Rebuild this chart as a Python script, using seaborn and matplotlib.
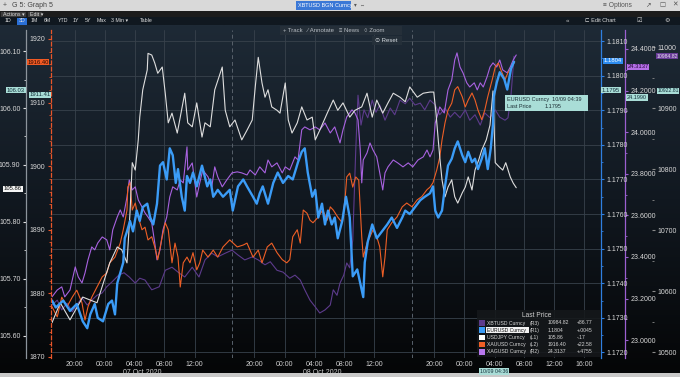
import numpy as np
import pandas as pd
import matplotlib
matplotlib.use("Agg")
import matplotlib.pyplot as plt
import matplotlib.dates as mdates
from matplotlib.ticker import FormatStrFormatter, MultipleLocator
from matplotlib.colors import LinearSegmentedColormap
from matplotlib.patches import Rectangle
from matplotlib.transforms import blended_transform_factory
import seaborn as sns

sns.set_theme(style="dark")
plt.rcParams['font.family'] = ['Liberation Sans', 'DejaVu Sans']

# ---- data: (hours after 06 Oct 17:00, price) ----
usdjpy = [(0.0,105.623),(1.1,105.658),(2.4,105.628),(4.1,105.668),(6.0,105.658),(7.7,105.728),(8.7,105.756),
          (9.3,105.751),(10.0,105.728),(10.4,105.816),(10.7,105.904),(11.1,105.891),(11.5,105.944),(11.7,105.984),
          (12.1,106.032),(12.7,106.067),(12.8,106.096),(13.3,106.093),(13.7,106.079),(14.1,106.061),(14.7,106.072),
          (15.1,106.026),(15.5,105.974),(16.0,105.991),(16.7,105.956),(17.1,105.984),(17.7,106.026),(18.1,105.974),
          (18.7,105.967),(19.3,106.009),(20.0,105.949),(20.4,105.974),(21.1,105.967),(21.7,106.032),(22.7,106.072),
          (23.1,105.996),(23.7,105.967),(24.4,105.979),(25.3,105.944),(26.0,105.961),(26.7,105.979),(27.1,106.037),
          (27.5,106.089),(28.0,106.044),(28.4,106.019),(28.8,106.032),(29.3,106.002),(30.0,105.996),(30.4,105.991),
          (31.1,106.044),(31.5,105.979),(32.0,105.956),(32.7,105.974),(33.3,106.002),(34.0,105.979),(34.7,105.984),
          (35.1,105.944),(35.7,105.961),(36.7,105.991),(37.5,106.014),(38.1,105.996),(38.8,106.009),(39.7,105.984),
          (40.4,105.996),(41.3,106.002),(42.0,106.026),(42.7,105.984),(43.3,106.014),(44.1,105.991),(44.8,106.009),
          (45.5,106.026),(46.4,106.019),(47.1,106.011),(47.7,106.037),(48.7,106.019),(49.5,106.026),(50.4,106.028),
          (50.9,106.028),(51.2,105.991),(51.5,105.944),(51.7,105.914),(52.0,105.874),(52.4,105.844),(52.8,105.861),
          (53.3,105.874),(53.7,105.844),(54.1,105.833),(54.7,105.851),(55.1,105.861),(55.5,105.879),(56.0,105.856),
          (56.4,105.891),(56.9,105.909),(57.3,105.926),(57.9,105.944),(58.4,105.970),(58.8,106.030),(59.1,105.904),
          (59.6,105.897),(60.1,105.891),(60.5,105.904),(61.1,105.879),(61.5,105.868),(61.9,105.860)]

eurusd = [(0.0,1.1735),(0.5,1.1733),(1.5,1.1735),(2.4,1.1732),(3.3,1.1734),(4.1,1.1729),(4.7,1.1727),(5.1,1.1731),
          (5.7,1.1734),(6.1,1.1730),(6.8,1.1729),(7.5,1.1734),(8.0,1.1735),(8.4,1.1731),(8.7,1.1740),(9.1,1.1743),
          (9.5,1.1746),(9.7,1.1753),(10.0,1.1755),(10.4,1.1758),(10.8,1.1755),(11.3,1.1761),(11.7,1.1758),(12.1,1.1762),
          (12.7,1.1763),(13.1,1.1759),(13.5,1.1757),(14.0,1.1763),(14.4,1.1774),(14.8,1.1775),(15.3,1.1770),(15.7,1.1779),
          (16.1,1.1777),(16.5,1.1769),(16.8,1.1773),(17.3,1.1765),(17.7,1.1761),(18.0,1.1771),(18.4,1.1769),(18.8,1.1772),
          (19.3,1.1768),(20.0,1.1774),(20.7,1.1768),(21.1,1.1770),(21.5,1.1765),(22.1,1.1767),(22.8,1.1765),(23.7,1.1767),
          (24.1,1.1761),(24.8,1.1768),(25.5,1.1770),(26.0,1.1768),(26.8,1.1765),(27.3,1.1763),(27.7,1.1766),(28.1,1.1768),
          (28.8,1.1763),(29.5,1.1769),(30.1,1.1772),(30.8,1.1769),(31.5,1.1771),(32.1,1.1770),(32.8,1.1775),(33.3,1.1778),
          (33.7,1.1779),(34.1,1.1772),(34.7,1.1765),(35.1,1.1767),(35.5,1.1759),(36.0,1.1763),(36.4,1.1757),(36.8,1.1761),
          (37.3,1.1757),(37.7,1.1759),(38.1,1.1753),(38.7,1.1758),(39.2,1.1765),(39.7,1.1759),(40.1,1.1742),(40.7,1.1744),
          (41.1,1.1740),(41.5,1.1736),(41.7,1.1746),(42.1,1.1752),(42.7,1.1757),(43.3,1.1753),(44.0,1.1755),(44.7,1.1757),
          (45.3,1.1759),(46.0,1.1756),(46.7,1.1759),(47.1,1.1761),(47.7,1.1760),(48.4,1.1762),(49.1,1.1764),(49.7,1.1765),
          (50.4,1.1766),(50.8,1.1768),(51.1,1.1761),(51.5,1.1759),(52.0,1.1761),(52.4,1.1768),(52.8,1.1774),(53.3,1.1776),
          (53.7,1.1779),(54.1,1.1781),(54.7,1.1777),(55.1,1.1775),(55.5,1.1778),(56.0,1.1775),(56.4,1.1776),(56.8,1.1773),
          (57.3,1.1776),(57.7,1.1779),(58.1,1.1773),(58.5,1.1779),(58.8,1.1786),(58.9,1.1794),(59.3,1.1798),(59.7,1.1801),
          (60.3,1.1799),(60.7,1.1796),(61.2,1.1802),(61.6,1.1804)]

xauusd = [(0.0,1877.9),(0.7,1876.3),(1.3,1879.4),(2.0,1877.9),(2.7,1879.4),(3.3,1880.5),(4.0,1878.5),(4.4,1875.8),
          (4.8,1877.9),(5.3,1879.4),(6.0,1881.0),(6.7,1882.6),(7.3,1883.2),(7.7,1884.8),(8.4,1885.7),(9.1,1887.9),
          (9.5,1890.0),(10.0,1893.1),(10.1,1896.7),(10.4,1897.4),(10.7,1893.1),(11.1,1894.2),(11.5,1892.0),(12.0,1890.0),
          (12.4,1890.4),(12.8,1888.4),(13.3,1888.9),(13.7,1887.3),(14.1,1885.3),(14.7,1888.9),(15.1,1891.1),(15.5,1890.0),
          (16.0,1884.8),(16.4,1887.9),(16.8,1885.7),(17.1,1881.0),(17.5,1884.8),(18.0,1885.7),(18.4,1884.8),(18.8,1886.4),
          (19.3,1883.7),(19.7,1884.8),(20.1,1886.8),(20.8,1885.7),(21.5,1886.8),(22.1,1885.7),(22.8,1887.3),(23.7,1888.4),
          (24.7,1887.3),(25.5,1887.6),(26.0,1887.9),(26.8,1885.7),(27.5,1886.8),(28.0,1884.8),(28.7,1887.3),(29.3,1887.9),
          (30.0,1886.4),(30.7,1885.3),(31.3,1884.8),(31.7,1885.3),(32.1,1888.9),(32.7,1890.0),(33.1,1887.9),(33.5,1893.1),
          (34.0,1892.6),(34.4,1891.5),(34.8,1891.1),(35.5,1892.0),(36.1,1893.1),(36.7,1891.5),(37.1,1893.6),(37.5,1893.1),
          (38.1,1892.0),(38.7,1891.1),(39.1,1895.2),(39.3,1898.3),(39.7,1898.9),(40.1,1896.7),(40.5,1898.3),(40.9,1897.8),
          (41.3,1888.9),(41.5,1885.7),(42.0,1887.9),(42.4,1888.9),(42.8,1890.0),(43.3,1888.9),(43.7,1887.3),(44.1,1882.6),
          (44.4,1885.7),(44.7,1890.0),(45.3,1891.1),(46.0,1892.0),(46.7,1893.6),(47.3,1894.2),(48.0,1893.6),(48.7,1894.7),
          (49.3,1895.2),(50.0,1896.3),(50.4,1896.7),(50.8,1897.4),(51.3,1899.4),(51.7,1901.4),(52.0,1904.1),(52.4,1906.8),
          (52.8,1908.8),(53.3,1909.9),(53.7,1912.0),(54.1,1912.5),(54.7,1910.9),(55.1,1909.3),(55.5,1910.4),(56.0,1911.5),
          (56.4,1910.4),(56.8,1908.8),(57.3,1907.3),(57.7,1908.8),(58.1,1910.9),(58.7,1913.6),(59.1,1915.6),(59.5,1916.2),
          (60.0,1914.7),(60.4,1913.6),(60.8,1914.7),(61.3,1915.6),(61.7,1916.4)]

xagusd = [(0.0,23.208),(0.7,23.241),(1.3,23.256),(1.7,23.208),(2.4,23.241),(3.1,23.352),(3.5,23.304),(4.0,23.275),
          (4.4,23.323),(4.8,23.386),(5.3,23.448),(5.7,23.434),(6.1,23.467),(6.7,23.496),(7.3,23.482),(7.7,23.434),
          (8.1,23.530),(8.7,23.592),(9.1,23.626),(9.5,23.592),(10.0,23.688),(10.3,23.770),(10.7,23.722),(11.1,23.737),
          (11.5,23.674),(12.0,23.640),(12.4,23.612),(12.8,23.592),(13.3,23.563),(13.7,23.467),(14.0,23.386),(14.4,23.434),
          (14.8,23.530),(15.3,23.592),(15.7,23.688),(16.1,23.737),(16.7,23.722),(17.1,23.770),(17.5,23.756),(18.0,23.929),
          (18.1,23.818),(18.7,23.852),(19.3,23.688),(19.7,23.756),(20.1,23.818),(20.8,23.785),(21.3,23.737),(21.7,23.833),
          (22.1,23.785),(22.7,23.737),(23.3,23.770),(24.0,23.804),(24.7,23.809),(25.3,23.804),(26.0,23.794),(26.4,23.818),
          (27.1,23.794),(27.7,23.833),(28.4,23.804),(28.8,23.866),(29.3,23.833),(30.0,23.852),(30.7,23.804),(31.1,23.833),
          (31.7,23.818),(32.4,23.881),(32.8,23.866),(33.3,24.011),(33.7,24.025),(34.4,24.011),(35.1,24.025),(35.7,24.011),
          (36.4,24.044),(37.1,23.996),(37.7,24.025),(38.4,23.948),(38.8,24.011),(39.3,24.073),(40.0,24.107),(40.4,24.092),
          (40.8,24.059),(41.1,23.914),(41.3,23.756),(41.5,23.866),(42.0,23.900),(42.4,23.948),(42.8,23.914),(43.3,23.881),
          (43.7,23.804),(44.1,23.722),(44.4,23.804),(44.8,23.833),(45.5,23.866),(46.1,23.852),(46.8,23.833),(47.5,23.852),
          (48.1,23.833),(48.8,23.866),(49.5,23.881),(50.0,23.914),(50.4,23.881),(50.8,23.914),(51.1,24.044),(51.7,24.121),
          (52.3,24.092),(52.8,24.203),(53.3,24.251),(53.7,24.347),(54.0,24.381),(54.4,24.313),(54.8,24.285),(55.3,24.237),
          (55.7,24.217),(56.3,24.237),(56.7,24.203),(57.1,24.237),(57.5,24.217),(58.0,24.265),(58.4,24.313),(58.8,24.333),
          (59.3,24.313),(59.7,24.347),(60.1,24.299),(60.7,24.285),(61.1,24.313),(61.5,24.347),(61.9,24.371)]

xbtusd = [(0.0,10577),(0.7,10585),(1.3,10569),(2.0,10580),(2.7,10566),(3.3,10577),(4.0,10589),(4.7,10577),
          (5.3,10585),(6.0,10593),(6.7,10597),(7.3,10607),(8.0,10615),(8.9,10626),(9.6,10630),(10.3,10623),
          (11.1,10613),(11.7,10621),(12.4,10618),(13.3,10602),(14.3,10607),(15.1,10634),(16.0,10639),(16.9,10630),
          (17.7,10623),(18.7,10639),(19.6,10623),(20.4,10651),(21.3,10662),(22.1,10656),(23.1,10662),(24.0,10667),
          (24.8,10659),(25.7,10651),(26.7,10656),(27.5,10651),(28.4,10643),(29.1,10648),(30.0,10634),(30.8,10631),
          (31.7,10621),(32.4,10626),(33.1,10618),(33.7,10602),(34.4,10585),(35.1,10574),(35.7,10564),(36.4,10569),
          (37.1,10577),(37.5,10602),(38.0,10593),(38.4,10613),(38.9,10626),(39.3,10646),(39.7,10638),(40.1,10684),
          (40.5,10831),(40.8,10921),(41.2,10872),(41.6,10897),(42.1,10884),(42.7,10913),(43.2,10893),(43.7,10905),
          (44.4,10880),(45.1,10900),(45.7,10889),(46.4,10913),(47.1,10907),(47.7,10916),(48.4,10905),(49.1,10908),
          (49.7,10897),(50.4,10913),(51.1,10905),(51.7,10889),(52.4,10900),(53.1,10885),(53.7,10893),(54.4,10884),
          (55.1,10897),(55.7,10880),(56.4,10889),(57.1,10872),(57.7,10892),(58.4,10884),(59.1,10897),(59.7,10885),
          (60.4,10880),(60.8,10884),(61.2,10921),(61.6,10984.82)]

# legend table
leg_names = ["XBTUSD Curncy", "EURUSD Curncy", "USDJPY Curncy", "XAUUSD Curncy", "XAGUSD Curncy"]
leg_side = ["(R3)", "(R1)", "(L1)", "(L2)", "(R2)"]
leg_last = ["10984.82", "1.1804", "105.86", "1916.40", "24.3137"]
leg_chg = ["+86.77", "+.0045", "-.17", "+22.58", "+.4755"]

c_xbt, c_eur, c_jpy, c_xau, c_xag = "#5d3b8c", "#3b9cf7", "#dedede", "#ee5f26", "#a862e0"
leg_cols = [c_xbt, c_eur, "#ffffff", c_xau, "#b877ee"]

start = pd.Timestamp("2020-10-06 17:00")
t0, t1 = start, pd.Timestamp("2020-10-09 18:12")
hr = lambda h: start + pd.Timedelta(hours=h)

xticks = [pd.Timestamp(s) for s in ["2020-10-06 20:00", "2020-10-07 00:00", "2020-10-07 04:00", "2020-10-07 08:00",
          "2020-10-07 12:00", "2020-10-07 20:00", "2020-10-08 00:00", "2020-10-08 04:00", "2020-10-08 08:00",
          "2020-10-08 12:00", "2020-10-08 20:00", "2020-10-09 00:00", "2020-10-09 04:00", "2020-10-09 08:00",
          "2020-10-09 12:00", "2020-10-09 16:00"]]
day_breaks = [pd.Timestamp("2020-10-07 17:00"), pd.Timestamp("2020-10-08 17:00")]

W, H = 680, 377
def rect(x0, y0, x1, y1):
    return [x0 / W, 1 - y1 / H, (x1 - x0) / W, (y1 - y0) / H]

fig = plt.figure(figsize=(6.8, 3.77), dpi=100)
fig.patch.set_facecolor("#000000")

# dark gradient panel
bg = fig.add_axes(rect(0, 25, 680, 373), zorder=0)
cmap = LinearSegmentedColormap.from_list("bbg", ["#1e2a36", "#111820", "#050607"])
bg.imshow(np.linspace(0, 1, 256).reshape(-1, 1), aspect="auto", cmap=cmap, extent=[0, 1, 0, 1])
bg.axis("off")

PLOT = rect(52, 30, 601, 358)

# grid axes (follows EURUSD scale, like the terminal)
r1_lim = (1.17184, 1.18132)
r1_ticks = np.arange(1.1720, 1.18101, 0.001)
gax = fig.add_axes(PLOT, zorder=1)
gax.set_facecolor("none")
gax.set_xlim(t0, t1)
gax.set_ylim(*r1_lim)
gax.set_yticks(r1_ticks)
gax.set_xticks(xticks)
gax.grid(True, color="#38424c", lw=0.6)
gax.tick_params(axis="y", length=0, labelleft=False)
gax.xaxis.set_major_formatter(mdates.DateFormatter("%H:%M"))
gax.tick_params(axis="x", length=0, labelsize=5, labelcolor="#cfcfcf", pad=2)
for s in gax.spines.values():
    s.set_visible(False)
for t in day_breaks:
    gax.axvline(t, color="#58616b", lw=0.7, ls=(0, (4, 3)))
tr = blended_transform_factory(gax.transData, gax.transAxes)
gax.text(pd.Timestamp("2020-10-07 05:00"), -0.043, "07 Oct 2020", transform=tr, ha="center", va="center",
         fontsize=5, color="#cfcfcf")
gax.text(pd.Timestamp("2020-10-08 05:00"), -0.043, "08 Oct 2020", transform=tr, ha="center", va="center",
         fontsize=5, color="#cfcfcf")


def series_axes(data, color, lw, z, side, pos, lim, ticks, fmt, spine_color, ls="-", minor=None,
                show_spine=True, tick_color=None):
    ax = fig.add_axes(PLOT, zorder=z)
    h, v = zip(*data)
    df = pd.DataFrame({"t": [hr(x) for x in h], "v": v})
    sns.lineplot(data=df, x="t", y="v", ax=ax, color=color, linewidth=lw, legend=False)
    ax.set_facecolor("none")
    ax.grid(False)
    ax.set_xlim(t0, t1)
    ax.set_ylim(*lim)
    ax.set_xlabel("")
    ax.set_ylabel("")
    ax.xaxis.set_visible(False)
    for s in ax.spines.values():
        s.set_visible(False)
    ax.yaxis.set_ticks_position(side)
    sp = ax.spines[side]
    sp.set_visible(show_spine)
    sp.set_position(("axes", pos))
    sp.set_color(spine_color)
    sp.set_linestyle(ls)
    sp.set_linewidth(0.9)
    ax.set_yticks(ticks)
    ax.yaxis.set_major_formatter(FormatStrFormatter(fmt))
    tc = tick_color or spine_color
    ax.tick_params(axis="y", which="major", color=tc, labelcolor="#d8d8d8", labelsize=5, length=2.5,
                   width=0.8, pad=1.5, direction="out")
    if minor:
        ax.yaxis.set_minor_locator(MultipleLocator(minor))
        ax.tick_params(axis="y", which="minor", color=tc, length=1.5, width=0.6)
    return ax


ax_r3 = series_axes(xbtusd, c_xbt, 0.8, 2, "right", (652 - 52) / 549, (10490.2, 11027.9),
                    np.arange(10500, 11001, 100), "%d", "#8a8a8a", show_spine=False, minor=50)
ax_r2 = series_axes(xagusd, c_xag, 0.8, 3, "right", (625 - 52) / 549, (22.914, 24.491),
                    np.arange(23.0, 24.41, 0.2), "%.4f", "#9b5fd0", minor=0.1)
ax_l2 = series_axes(xauusd, c_xau, 0.8, 4, "left", -0.002, (1869.84, 1921.4),
                    np.arange(1870, 1921, 10), "%d", "#e8562a", ls=(0, (3, 2)), minor=2)
ax_l1 = series_axes(usdjpy, c_jpy, 0.8, 5, "left", (26 - 52) / 549, (105.561, 106.137),
                    np.arange(105.6, 106.11, 0.1), "%.2f", "#8c949c", minor=0.05, tick_color="#e0e0e0")
ax_r1 = series_axes(eurusd, c_eur, 1.7, 6, "right", 1.0, r1_lim, r1_ticks, "%.4f", "#2f7fe0", minor=0.0005)

# ---- overlay in pixel coordinates: terminal chrome, tags, legend ----
ov = fig.add_axes([0, 0, 1, 1], zorder=20)
ov.set_xlim(0, W)
ov.set_ylim(H, 0)
ov.axis("off")
ov.patch.set_alpha(0)

def box(x, y, w, h, fc, ec="none", lw=0.5, alpha=1):
    ov.add_patch(Rectangle((x, y), w, h, fc=fc, ec=ec, lw=lw, alpha=alpha))

def txt(x, y, s, size=5, color="#d0d0d0", ha="left", **kw):
    ov.text(x, y, s, fontsize=size, color=color, ha=ha, va="center", **kw)

# window title bar
box(0, 0, 680, 11, "#d9d9d9")
txt(3, 5.5, "+", 5, "#555555")
txt(12, 5.5, "G 5: Graph 5", 5, "#444444")
box(296, 1, 55, 9, "#3b78d6")
txt(298, 5.5, "XBTUSD BGN Curncy", 4.0, "#ffffff")
txt(354, 5.5, "▾  ⇔", 4, "#555555")
txt(603, 5.5, "≡ Options", 4.8, "#555555")
txt(645, 5.5, "↗", 4.8, "#555555")
txt(659, 5.5, "☐", 4.8, "#555555")
txt(672, 5.5, "✕", 4.8, "#555555")
# toolbar rows
box(0, 11, 680, 6, "#1c1c1c")
box(0, 17, 680, 8, "#101820")
box(1, 12, 25, 4.5, "#3a3a3a")
box(28, 12, 14, 4.5, "#3a3a3a")
txt(3, 14.3, "Actions ▾", 3.8, "#dddddd")
txt(30, 14.3, "Edit ▾", 3.8, "#dddddd")
box(17, 17.5, 10, 7, "#2a6fd6")
for xx, s in [(5, "1D"), (19, "3D"), (31, "1M"), (44, "6M"), (58, "YTD"), (73, "1Y"), (85, "5Y"),
              (97, "Max"), (111, "3 Min ▾"), (140, "Table")]:
    txt(xx, 21, s, 3.8, "#dddddd")
txt(566, 20.5, "«", 4.5, "#cccccc")
txt(585, 20.5, "⊏ Edit Chart", 4, "#dddddd")
txt(636, 20.5, "☑", 4.5, "#cccccc")
txt(664, 20.5, "⚙", 4.5, "#cccccc")
# bottom strip
box(0, 373, 680, 4, "#c9c9c9")

# chart buttons
box(280, 26, 122, 9, "#26303a", alpha=0.9)
txt(283, 30.5, "+ Track   ⁄ Annotate   ≡ News   ○ Zoom", 4.3, "#b8bec4")
box(372, 36, 30, 9, "#26303a", alpha=0.9)
txt(375, 40.5, "⊙ Reset", 4.3, "#d8dde2")

# value tags on the axes
def tag(x, y, s, fc, tc, size=4.2):
    ov.text(x, y, s, fontsize=size, color=tc, ha="center", va="center",
            bbox=dict(boxstyle="square,pad=0.12", fc=fc, ec="none"))

tag(16, 90, "106.03", "#a9ddd7", "#13303a")
tag(13, 189, "105.86", "#f4f4f4", "#111111")
tag(38, 62, "1916.40", "#f05a24", "#2a0800")
tag(40, 95, "1911.41", "#a9ddd7", "#13303a")
tag(613, 61, "1.1804", "#2d8cf0", "#ffffff")
tag(611, 90, "1.1795", "#a9ddd7", "#13303a")
tag(638, 67, "24.3137", "#b46ee6", "#2a0a40")
tag(637, 97.5, "24.1990", "#a9ddd7", "#13303a", 4.0)
tag(667, 56, "10984.82", "#6a3d9a", "#e8e0f0", 3.7)
tag(668, 91, "10922.81", "#a9ddd7", "#13303a", 3.7)
tag(494, 371.5, "10/09 04:36", "#a9ddd7", "#13303a", 3.8)

# cursor tooltip
box(505, 95, 83, 16, "#a9ddd7")
txt(507, 99.5, "EURUSD Curncy  10/09 04:39", 4.0, "#1b2d33")
txt(507, 106.5, "Last Price", 4.0, "#1b2d33")
txt(545, 106.5, "1.1795", 4.0, "#1b2d33")

# legend table
box(477, 310, 124, 47, "#15181b", alpha=0.88)
txt(537, 315.5, "Last Price", 4.8, "#d0d0d0", ha="center")
for i, name in enumerate(leg_names):
    yy = 323 + i * 7.2
    box(479, yy - 2.8, 5.6, 5.6, leg_cols[i])
    if i == 1:
        box(486, yy - 3.2, 43, 6.4, "#f2f2f2")
        fc = "#111111"
    else:
        fc = "#d6d6d6"
    txt(487, yy, name, 3.7, fc)
    txt(530, yy, leg_side[i], 3.7, "#d6d6d6")
    txt(548, yy, leg_last[i], 3.7, "#d6d6d6")
    txt(577, yy, leg_chg[i], 3.7, "#d6d6d6")

fig.savefig("out.png", dpi=100, facecolor=fig.get_facecolor())
